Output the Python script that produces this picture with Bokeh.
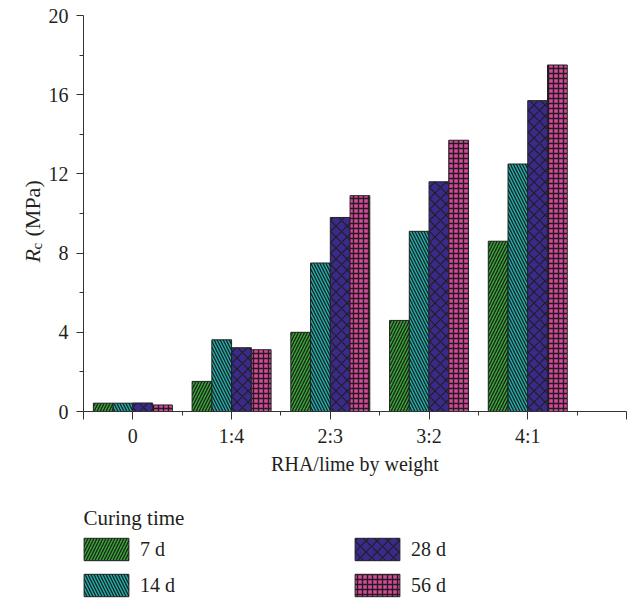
from math import pi
from bokeh.plotting import figure
from bokeh.models import (ColumnDataSource, Range1d, FixedTicker, Legend,
                          LegendItem, Label)
from bokeh.transform import dodge
from bokeh.embed import file_html
from bokeh.resources import INLINE

# ---- data ----
categories = ["0", "1:4", "2:3", "3:2", "4:1"]
series_names = ["7 d", "14 d", "28 d", "56 d"]
rc_7d = [0.42, 1.52, 4.0, 4.6, 8.6]
rc_14d = [0.42, 3.62, 7.5, 9.1, 12.5]
rc_28d = [0.43, 3.22, 9.8, 11.6, 15.7]
rc_56d = [0.33, 3.12, 10.9, 13.7, 17.5]
y_ticks = [0, 4, 8, 12, 16, 20]
y_minor = [2, 6, 10, 14, 18]

FONT = "Liberation Serif"
TXT = "#231f20"
AX = "#333333"
W, H = 632, 599

# pixel layout of the plotting area inside the canvas
AX_LEFT, AX_RIGHT, AX_TOP, AX_BOTTOM = 83, 626, 15, 411
X0, X1, Y0, Y1 = -0.5, 5.0, 0.0, 20.0
xs = (AX_RIGHT - AX_LEFT) / (X1 - X0)
ys = (AX_BOTTOM - AX_TOP) / (Y1 - Y0)
x_range = Range1d(X0 - AX_LEFT / xs, X1 + (W - AX_RIGHT) / xs)
y_range = Range1d(Y0 - (H - AX_BOTTOM) / ys, Y1 + AX_TOP / ys)

colors = ["#34a834", "#1cb0ac", "#3b2a8c", "#d8479c"]
hatches = ["/", "\\", "x", "+"]
hscales = [6.0, 6.0, 11.0, 5.0]
hweights = [1.3, 1.3, 1.2, 1.4]
offsets = [-0.3, -0.1, 0.1, 0.3]

src = ColumnDataSource(dict(idx=list(range(len(categories))), cat=categories,
                            s7=rc_7d, s14=rc_14d, s28=rc_28d, s56=rc_56d))
cols = ["s7", "s14", "s28", "s56"]

p = figure(width=W, height=H, output_backend="svg", toolbar_location=None,
           x_range=x_range, y_range=y_range,
           min_border_left=0, min_border_right=0, min_border_top=0,
           min_border_bottom=0)
p.outline_line_color = None
p.xgrid.visible = False
p.ygrid.visible = False

renderers = []
for c, col, h, hs, hw, off in zip(cols, colors, hatches, hscales, hweights,
                                  offsets):
    r = p.vbar(x=dodge("idx", off, range=p.x_range), top=c, width=0.2,
               source=src, fill_color=col, line_color="#222222",
               line_width=1.0, hatch_pattern=h, hatch_color="#1e1e1e",
               hatch_scale=hs, hatch_weight=hw)
    renderers.append(r)

# y axis (drawn at x = -0.5, limited to 0..20)
ya = p.yaxis[0]
ya.fixed_location = X0
ya.bounds = (Y0, Y1)
ya.ticker = FixedTicker(ticks=y_ticks, minor_ticks=y_minor)
ya.major_tick_out = 7
ya.major_tick_in = 0
ya.minor_tick_out = 4
ya.minor_tick_in = 0
ya.major_label_standoff = 8
ya.major_label_text_font = FONT
ya.major_label_text_font_size = "20px"
ya.major_label_text_color = TXT
ya.axis_line_color = AX
ya.major_tick_line_color = AX
ya.minor_tick_line_color = AX

# x axis (drawn at y = 0, limited to -0.5..5)
xa = p.xaxis[0]
xa.fixed_location = Y0
xa.bounds = (X0, X1)
xa.ticker = FixedTicker(ticks=[-0.5, 0, 1, 2, 3, 4, 5],
                        minor_ticks=[0.5, 1.5, 2.5, 3.5, 4.5])
ov = {i: c for i, c in enumerate(categories)}
ov[-0.5] = ""
ov[5] = ""
xa.major_label_overrides = ov
xa.major_tick_out = 8
xa.major_tick_in = 0
xa.minor_tick_out = 4
xa.minor_tick_in = 0
xa.major_label_standoff = 5
xa.major_label_text_font = FONT
xa.major_label_text_font_size = "20px"
xa.major_label_text_color = TXT
xa.axis_line_color = AX
xa.major_tick_line_color = AX
xa.minor_tick_line_color = AX
xa.axis_label = "RHA/lime by weight"
xa.axis_label_text_font = FONT
xa.axis_label_text_font_size = "20px"
xa.axis_label_text_font_style = "normal"
xa.axis_label_text_color = TXT
xa.axis_label_standoff = 3

# y-axis title: italic R with subscript c, then (MPa)
lab_kw = dict(x_units="screen", y_units="screen", angle=pi / 2,
              text_font=FONT, text_color=TXT, text_align="left",
              text_baseline="alphabetic")
p.add_layout(Label(x=32, y=H - 262, text="R", text_font_style="italic",
                   text_font_size="22px", **lab_kw))
p.add_layout(Label(x=36, y=H - 249, text="c", text_font_size="15px", **lab_kw))
p.add_layout(Label(x=32, y=H - 236, text="(MPa)", text_font_size="22px",
                   **lab_kw))

# legend title
p.add_layout(Label(x=AX_LEFT, y=H - 517, x_units="screen", y_units="screen",
                   text="Curing time", text_font=FONT, text_font_size="21px",
                   text_color=TXT, text_align="left",
                   text_baseline="alphabetic"))

legend = Legend(items=[LegendItem(label=n, renderers=[r])
                       for n, r in zip(series_names, renderers)],
                location=(AX_LEFT - 5.0, 0), nrows=2, orientation="vertical",
                glyph_width=56, glyph_height=28, label_standoff=6,
                label_width=201, label_height=28, spacing=8, padding=0,
                margin=0, border_line_alpha=0, background_fill_alpha=0,
                label_text_font=FONT, label_text_font_size="20px",
                label_text_color=TXT)
p.add_layout(legend, "center")

open("out.html", "w").write(file_html(p, INLINE))
